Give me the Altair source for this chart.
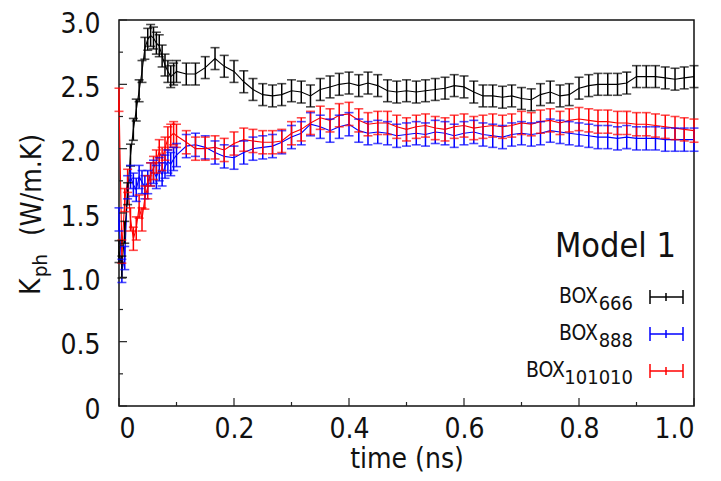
import altair as alt
import pandas as pd

# ---------------- data ----------------
time_ns = [0.000, 0.005, 0.010, 0.015, 0.020, 0.025, 0.030, 0.035, 0.040, 0.045,
           0.050, 0.055, 0.060, 0.065, 0.070, 0.075, 0.080, 0.085, 0.090, 0.095,
           0.100, 0.117, 0.133, 0.150, 0.167, 0.183, 0.200, 0.217, 0.233, 0.250,
           0.267, 0.283, 0.300, 0.317, 0.333, 0.350, 0.367, 0.383, 0.400, 0.417,
           0.433, 0.450, 0.467, 0.483, 0.500, 0.517, 0.533, 0.550, 0.567, 0.583,
           0.600, 0.617, 0.633, 0.650, 0.667, 0.683, 0.700, 0.717, 0.733, 0.750,
           0.767, 0.783, 0.800, 0.817, 0.833, 0.850, 0.867, 0.883, 0.900, 0.917,
           0.933, 0.950, 0.967, 0.983, 1.000]

k_box666 = [1.20, 1.08, 1.35, 1.65, 1.95, 2.15, 2.30, 2.45, 2.60, 2.78,
            2.85, 2.88, 2.86, 2.82, 2.80, 2.72, 2.65, 2.60, 2.56, 2.58,
            2.60, 2.58, 2.58, 2.63, 2.70, 2.64, 2.60, 2.52, 2.46, 2.42,
            2.41, 2.42, 2.45, 2.44, 2.41, 2.46, 2.48, 2.50, 2.51, 2.49,
            2.51, 2.49, 2.45, 2.44, 2.45, 2.44, 2.45, 2.46, 2.47, 2.49,
            2.48, 2.44, 2.41, 2.41, 2.40, 2.41, 2.39, 2.38, 2.42, 2.44,
            2.41, 2.42, 2.47, 2.49, 2.50, 2.50, 2.50, 2.51, 2.56, 2.56,
            2.56, 2.55, 2.54, 2.55, 2.56]

k_box888 = [1.45, 1.05, 1.15, 1.70, 1.78, 1.72, 1.68, 1.78, 1.74, 1.70,
            1.74, 1.80, 1.82, 1.78, 1.84, 1.80, 1.86, 1.90, 1.88, 1.92,
            1.95, 2.02, 2.03, 2.01, 1.97, 1.94, 1.93, 1.97, 2.00, 2.01,
            2.02, 2.05, 2.09, 2.12, 2.19, 2.17, 2.14, 2.17, 2.19, 2.14,
            2.12, 2.13, 2.12, 2.10, 2.11, 2.12, 2.11, 2.13, 2.12, 2.10,
            2.12, 2.13, 2.11, 2.10, 2.09, 2.11, 2.12, 2.11, 2.12, 2.14,
            2.13, 2.12, 2.11, 2.10, 2.09, 2.09, 2.08, 2.09, 2.08, 2.08,
            2.08, 2.07, 2.07, 2.07, 2.07]

k_box101010 = [2.38, 1.20, 1.60, 1.75, 1.45, 1.30, 1.38, 1.55, 1.45, 1.62,
               1.70, 1.80, 1.85, 1.90, 1.98, 1.92, 2.00, 2.08, 2.10, 2.12,
               2.10, 2.05, 2.00, 2.00, 2.01, 1.99, 2.04, 2.07, 2.06, 2.05,
               2.05, 2.06, 2.12, 2.15, 2.20, 2.24, 2.22, 2.26, 2.27, 2.22,
               2.19, 2.20, 2.20, 2.17, 2.15, 2.17, 2.18, 2.16, 2.15, 2.17,
               2.18, 2.16, 2.17, 2.18, 2.17, 2.18, 2.20, 2.19, 2.21, 2.22,
               2.20, 2.22, 2.23, 2.22, 2.21, 2.21, 2.20, 2.20, 2.19, 2.19,
               2.18, 2.17, 2.16, 2.15, 2.14]

series_names = ["BOX888", "BOX101010", "BOX666"]
series_values = [k_box888, k_box101010, k_box666]
series_errors = [0.09, 0.09, 0.085]
series_colors = ["#0000ff", "#ff0000", "#000000"]

x_major = [0.0, 0.2, 0.4, 0.6, 0.8, 1.0]
x_minor = [0.1, 0.3, 0.5, 0.7, 0.9]
y_major = [0.0, 0.5, 1.0, 1.5, 2.0, 2.5, 3.0]
y_minor = [0.25, 0.75, 1.25, 1.75, 2.25, 2.75]

legend_labels = ["BOX", "BOX", "BOX"]
legend_subs = ["666", "888", "101010"]
legend_colors = ["#000000", "#0000ff", "#ff0000"]

# ---------------- build ----------------
rows = []
for name, vals, err in zip(series_names, series_values, series_errors):
    for t, v in zip(time_ns, vals):
        rows.append({"series": name, "t": t, "v": v, "lo": v - err, "hi": v + err})
df = pd.DataFrame(rows)

W, H = 575, 386
FONT = "DejaVu Sans Condensed"

xs = alt.Scale(domain=[0, 1], nice=False, zero=False)
ys = alt.Scale(domain=[0, 3], nice=False, zero=False)

x_axis = alt.Axis(values=x_major, title="time (ns)", domain=False, ticks=False, tickSize=0,
                  grid=False, labelPadding=9,
                  labelExpr="datum.value == 0 ? '0' : format(datum.value, '.1f')",
                  titleY=61, titleBaseline="alphabetic")
y_axis = alt.Axis(values=y_major, title=None, domain=False, ticks=False, tickSize=0,
                  grid=False, labelPadding=19, labelOffset=4, labelBaseline="middle",
                  labelExpr="datum.value == 0 ? '0' : format(datum.value, '.1f')")

color = alt.Color("series:N", scale=alt.Scale(domain=series_names, range=series_colors),
                  legend=None)

base = alt.Chart(df)
lines = base.mark_line(strokeWidth=1.1).encode(
    x=alt.X("t:Q", scale=xs, axis=x_axis),
    y=alt.Y("v:Q", scale=ys, axis=y_axis),
    color=color, detail="series:N")
bars = base.mark_rule(strokeWidth=1.5).encode(
    x=alt.X("t:Q", scale=xs, axis=x_axis),
    y=alt.Y("lo:Q", scale=ys, axis=y_axis), y2="hi:Q", color=color)
caps_lo = base.mark_tick(orient="horizontal", size=9, thickness=1.6).encode(
    x=alt.X("t:Q", scale=xs, axis=x_axis),
    y=alt.Y("lo:Q", scale=ys, axis=y_axis), color=color)
caps_hi = base.mark_tick(orient="horizontal", size=9, thickness=1.6).encode(
    x=alt.X("t:Q", scale=xs, axis=x_axis),
    y=alt.Y("hi:Q", scale=ys, axis=y_axis), color=color)

# inward axis ticks
def xticks(vals, length):
    return alt.Chart(pd.DataFrame({"tk": vals})).mark_rule(color="#222", strokeWidth=1.2).encode(
        x=alt.X("tk:Q", scale=xs, axis=x_axis), y=alt.value(H), y2=alt.value(H - length))

def yticks(vals, length):
    return alt.Chart(pd.DataFrame({"tk": vals})).mark_rule(color="#222", strokeWidth=1.2).encode(
        y=alt.Y("tk:Q", scale=ys, axis=y_axis), x=alt.value(0), x2=alt.value(length))

dummy = pd.DataFrame({"a": [0]})

def txt(s, x, y, size, align="left", angle=0, baseline="alphabetic", color="#111"):
    return alt.Chart(dummy).mark_text(text=s, font=FONT, fontSize=size, align=align,
                                      baseline=baseline, angle=angle, color=color).encode(
        x=alt.value(x), y=alt.value(y))

# y title  K_ph (W/m.K), rotated
ytitle = [
    txt("K", -79, 275, 28, angle=270),
    txt("ph", -72, 257, 20, angle=270),
    txt("(W/m.K)", -78, 216, 28, angle=270),
]

# legend block
legend_layers = [txt("Model 1", 557, 237, 34, align="right")]
legend_y = [277, 314, 351]
box_right = [479, 479, 446]
for lab, sub, c, yy, br in zip(legend_labels, legend_subs, legend_colors, legend_y, box_right):
    legend_layers.append(txt(lab, br, yy + 6, 21, align="right"))
    legend_layers.append(txt(sub, 514, yy + 13, 20, align="right"))
    legend_layers.append(alt.Chart(dummy).mark_rule(color=c, strokeWidth=1.5).encode(
        x=alt.value(531), x2=alt.value(564), y=alt.value(yy)))
    for xx, hh in [(531, 7), (564, 7), (547, 4)]:
        legend_layers.append(alt.Chart(dummy).mark_rule(color=c, strokeWidth=1.5).encode(
            x=alt.value(xx), y=alt.value(yy - hh), y2=alt.value(yy + hh)))

chart = alt.layer(
    lines, bars, caps_lo, caps_hi,
    xticks(x_major, 8), xticks(x_minor, 4), yticks(y_major, 8), yticks(y_minor, 4),
    *ytitle, *legend_layers
).properties(
    width=W, height=H,
    autosize=alt.AutoSizeParams(type="none"),
    padding={"left": 111, "top": 12, "right": 19, "bottom": 67},
).configure_view(
    stroke="#111", strokeWidth=1.5
).configure_axis(
    labelFont=FONT, labelFontSize=28, labelColor="#111",
    titleFont=FONT, titleFontSize=28, titleColor="#111", titleFontWeight="normal"
)

chart.save("out.html", embed_options={"renderer": "svg", "actions": False})
